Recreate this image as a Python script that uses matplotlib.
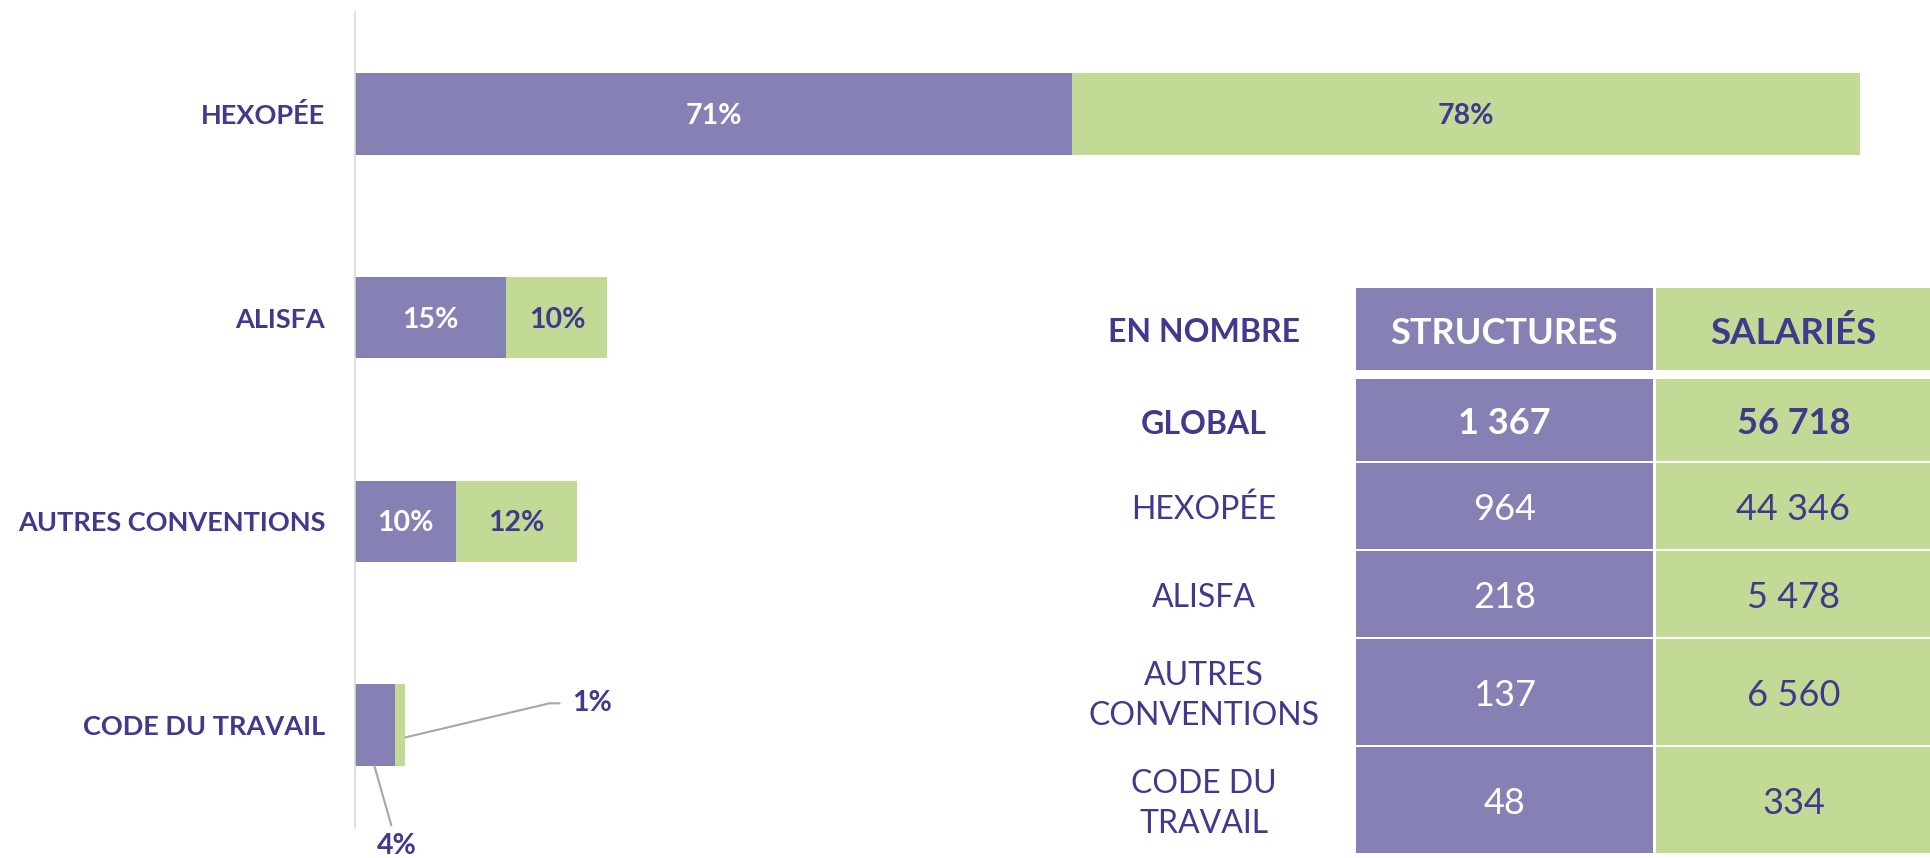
import matplotlib
matplotlib.use("Agg")
import matplotlib.pyplot as plt
from matplotlib.patches import Rectangle

# ---------------- data ----------------
categories = ["HEXOPÉE", "ALISFA", "AUTRES CONVENTIONS", "CODE DU TRAVAIL"]
pct_structures = [71, 15, 10, 4]
pct_salaries = [78, 10, 12, 1]

table_header = ["EN NOMBRE", "STRUCTURES", "SALARIÉS"]
table_rows = ["GLOBAL", "HEXOPÉE", "ALISFA", "AUTRES\nCONVENTIONS", "CODE DU\nTRAVAIL"]
table_structures = ["1 367", "964", "218", "137", "48"]
table_salaries = ["56 718", "44 346", "5 478", "6 560", "334"]

# ---------------- style ----------------
PURPLE = "#8581B5"
GREEN = "#C2DA95"
TEXT = "#40398C"
FONT = ["Lato", "DejaVu Sans"]
plt.rcParams["font.family"] = FONT

W, H = 1931, 858
fig = plt.figure(figsize=(W / 100, H / 100), dpi=100)

# ---------------- bar chart ----------------
ax_left, ax_top, ax_bot = 355, 12, 827
px_per_pct = 10.1
ax_w = W - ax_left
ax = fig.add_axes([ax_left / W, 1 - ax_bot / H, ax_w / W, (ax_bot - ax_top) / H])
ax.set_xlim(0, ax_w / px_per_pct)
ax.set_ylim(len(categories) - 0.5, -0.5)
ypos = list(range(len(categories)))
bh = 0.40
ax.barh(ypos, pct_structures, height=bh, color=PURPLE, zorder=2)
ax.barh(ypos, pct_salaries, left=pct_structures, height=bh, color=GREEN, zorder=2)

for s in ["top", "right", "bottom"]:
    ax.spines[s].set_visible(False)
ax.spines["left"].set_color("#D9D9D9")
ax.spines["left"].set_linewidth(1.2)
ax.set_xticks([])
ax.set_yticks(ypos)
ax.set_yticklabels(categories, fontsize=19.5, fontweight="bold", color=TEXT)
ax.tick_params(axis="y", length=0, pad=21.5)
ax.patch.set_visible(False)

lab_kw = dict(fontsize=20.5, fontweight="bold", ha="center", va="center", zorder=3)
for i, (a, b) in enumerate(zip(pct_structures, pct_salaries)):
    if a >= 5:
        ax.text(a / 2, i + 0.01, f"{a}%", color="white", **lab_kw)
    if b >= 5:
        ax.text(a + b / 2, i + 0.01, f"{b}%", color=TEXT, **lab_kw)

# small values: callouts with leader lines
i = len(categories) - 1
a, b = pct_structures[i], pct_salaries[i]
ax.annotate(f"{b}%", xy=(a + b, i + 0.06), xytext=(120, 24.5), textcoords="offset points",
            ha="left", va="center", color=TEXT, fontsize=20.5, fontweight="bold",
            arrowprops=dict(arrowstyle="-", color="#A6A6A6", lw=1.5, shrinkA=7, shrinkB=0,
                            connectionstyle="angle,angleA=0,angleB=13.3,rad=0"))
ax.annotate(f"{a}%", xy=(a * 0.48, i + bh / 2), xytext=(16.5, -58), textcoords="offset points",
            ha="center", va="center", color=TEXT, fontsize=20.5, fontweight="bold",
            arrowprops=dict(arrowstyle="-", color="#A6A6A6", lw=1.5, shrinkA=4, shrinkB=0))

# ---------------- table ----------------
tx = fig.add_axes([0, 0, 1, 1])
tx.set_xlim(0, W)
tx.set_ylim(H, 0)
tx.axis("off")
tx.patch.set_visible(False)

label_cx = 1204
col1 = (1356, 1653)
col2 = (1656, 1935)
header_rows = (288, 370)
row_bounds = [(379, 461), (463, 549), (551, 637), (639, 745), (747, 853)]
dy = 4  # optical centring of caps


def cell(x0x1, y0y1, color):
    tx.add_patch(Rectangle((x0x1[0], y0y1[0]), x0x1[1] - x0x1[0], y0y1[1] - y0y1[0],
                           facecolor=color, edgecolor="none"))


cell(col1, header_rows, PURPLE)
cell(col2, header_rows, GREEN)
hy = sum(header_rows) / 2 + dy
tx.text(label_cx, hy, table_header[0], ha="center", va="center", fontsize=23,
        fontweight="bold", color=TEXT)
tx.text(sum(col1) / 2, hy, table_header[1], ha="center", va="center", fontsize=26,
        fontweight="bold", color="white")
tx.text((col2[0] + 1931) / 2, hy, table_header[2], ha="center", va="center", fontsize=26.5,
        fontweight="bold", color=TEXT)

for k, (rb, lab, v1, v2) in enumerate(zip(row_bounds, table_rows, table_structures, table_salaries)):
    cell(col1, rb, PURPLE)
    cell(col2, rb, GREEN)
    cy = sum(rb) / 2 + dy
    fw = "bold" if k == 0 else "normal"
    tx.text(label_cx, cy, lab, ha="center", va="center", fontsize=23, fontweight=fw,
            color=TEXT, linespacing=1.42, multialignment="center")
    tx.text(sum(col1) / 2, cy, v1, ha="center", va="center", fontsize=26, fontweight=fw,
            color="white")
    tx.text((col2[0] + 1931) / 2, cy, v2, ha="center", va="center", fontsize=26,
            fontweight=fw, color=TEXT)

fig.savefig("out.png", dpi=100, facecolor="white")
